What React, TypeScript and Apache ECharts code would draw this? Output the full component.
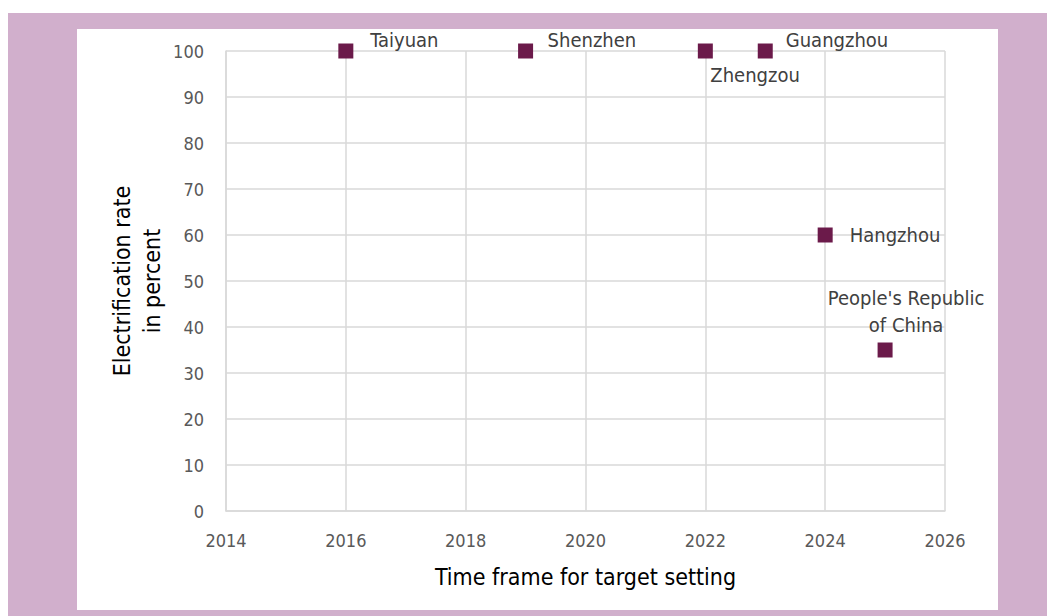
import React, { useEffect, useRef } from "react";
import * as echarts from "echarts";

const cities = ["Taiyuan", "Shenzhen", "Zhengzou", "Guangzhou", "Hangzhou", "People's Republic\nof China"];
const years = [2016, 2019, 2022, 2023, 2024, 2025];
const rates = [100, 100, 100, 100, 60, 35];

const xTitle = "Time frame for target setting";
const yTitle = "Electrification rate\nin percent";

const FONT = "'DejaVu Sans Condensed', 'DejaVu Sans', sans-serif";

// label placement (relative to the symbol's bounding box top-left)
const labelPlacement: Array<{ pos: [number, number]; align: string }> = [
  { pos: [32, -4], align: "left" },
  { pos: [29.5, -4], align: "left" },
  { pos: [12.5, 31.5], align: "left" },
  { pos: [28, -4], align: "left" },
  { pos: [32, 7.5], align: "left" },
  { pos: [28.5, -31], align: "center" },
];

export default function App() {
  const ref = useRef<HTMLDivElement>(null);
  useEffect(() => {
    if (!ref.current) return;
    const chart = echarts.init(ref.current, undefined, { renderer: "svg" });
    const data = years.map((y, i) => ({
      value: [y, rates[i]],
      name: cities[i],
      label: {
        show: true,
        formatter: cities[i],
        position: labelPlacement[i].pos,
        align: labelPlacement[i].align,
        verticalAlign: "middle",
        lineHeight: 27,
      },
    }));
    chart.setOption({
      animation: false,
      backgroundColor: "#ffffff",
      grid: { left: 149, right: 53, top: 22, bottom: 99, containLabel: false },
      xAxis: {
        type: "value",
        min: 2014,
        max: 2026,
        interval: 2,
        name: xTitle,
        nameLocation: "middle",
        nameGap: 54,
        nameTextStyle: { color: "#000000", fontSize: 23, fontFamily: FONT },
        axisLine: { show: true, lineStyle: { color: "#d9d9d9", width: 1.5 } },
        axisTick: { show: false },
        axisLabel: {
          color: "#595959",
          fontSize: 18,
          fontFamily: FONT,
          margin: 20,
          formatter: (v: number) => String(v),
        },
        splitLine: { show: true, lineStyle: { color: "#d9d9d9", width: 1.5 } },
      },
      yAxis: {
        type: "value",
        min: 0,
        max: 100,
        interval: 10,
        name: yTitle,
        nameLocation: "middle",
        nameGap: 59,
        nameMoveOverlap: false,
        nameTextStyle: { color: "#000000", fontSize: 23, fontFamily: FONT, lineHeight: 30 },
        axisLine: { show: true, lineStyle: { color: "#d9d9d9", width: 1.5 } },
        axisTick: { show: false },
        axisLabel: { color: "#595959", fontSize: 18, fontFamily: FONT, margin: 22 },
        splitLine: { show: true, lineStyle: { color: "#d9d9d9", width: 1.5 } },
      },
      series: [
        {
          type: "scatter",
          symbol: "rect",
          symbolSize: 15,
          itemStyle: { color: "#6b1a4a", opacity: 1 },
          label: { color: "#404040", fontSize: 20, fontFamily: FONT },
          data,
        },
      ],
    });
    return () => chart.dispose();
  }, []);
  return (
    <div style={{ position: "absolute", left: 8, top: 13, width: 1039, height: 603, background: "#d1afcc" }}>
      <div
        ref={ref}
        style={{ position: "absolute", left: 69, top: 16, width: 921, height: 581, background: "#ffffff" }}
      />
    </div>
  );
}
